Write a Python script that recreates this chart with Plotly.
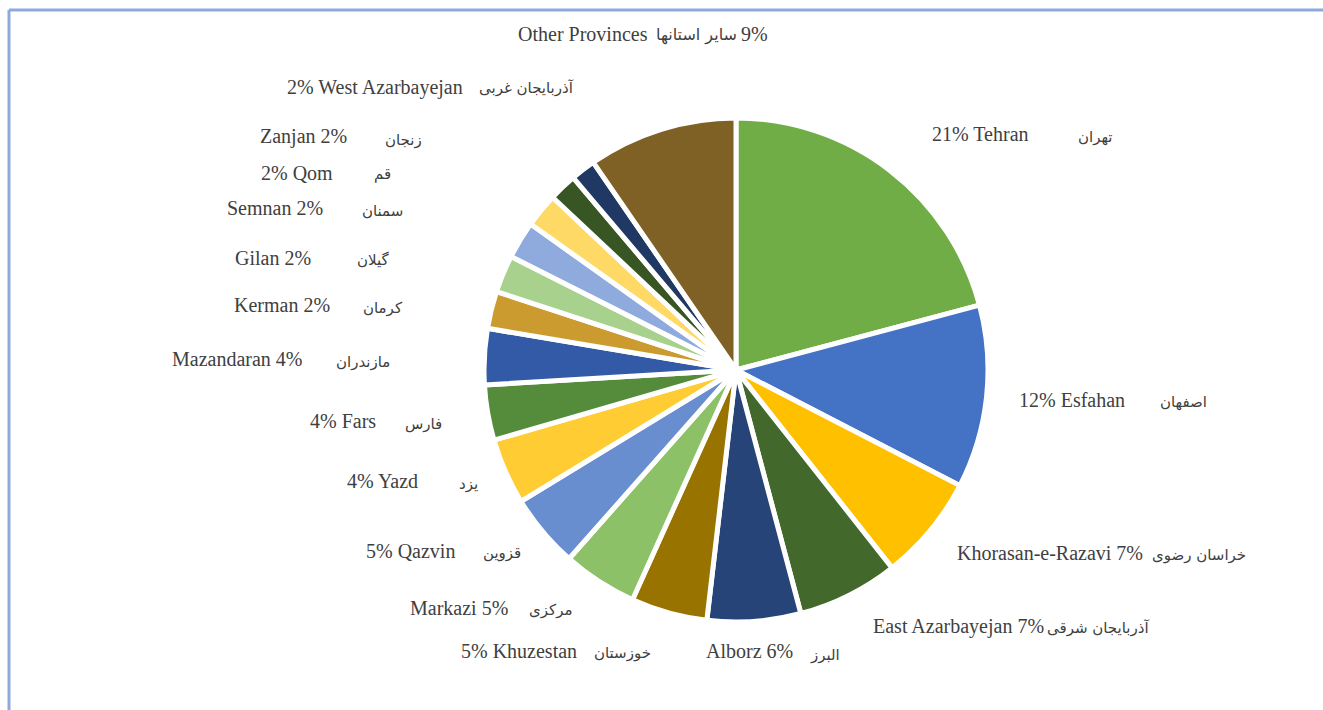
import plotly.graph_objects as go

W, H = 1323, 710

provinces_en = ["Tehran", "Esfahan", "Khorasan-e-Razavi", "East Azarbayejan", "Alborz",
                "Khuzestan", "Markazi", "Qazvin", "Yazd", "Fars", "Mazandaran",
                "Kerman", "Gilan", "Semnan", "Qom", "Zanjan", "West Azarbayejan",
                "Other Provinces"]
provinces_fa = ["تهران", "اصفهان", "خراسان رضوی", "آذربایجان شرقی", "البرز",
                "خوزستان", "مرکزی", "قزوین", "یزد", "فارس", "مازندران",
                "کرمان", "گیلان", "سمنان", "قم", "زنجان", "آذربایجان غربی",
                "سایر استانها"]
shares = [20.9, 11.75, 6.8, 6.5, 6.0, 4.9, 4.8, 4.75, 4.25, 3.55, 3.6,
          2.4, 2.4, 2.4, 2.2, 1.8, 1.6, 9.6]
label_pct = ["21%", "12%", "7%", "7%", "6%", "5%", "5%", "5%", "4%", "4%", "4%",
             "2%", "2%", "2%", "2%", "2%", "2%", "9%"]
colors = ["#70AD47", "#4472C4", "#FFC000", "#43682B", "#264478", "#997300",
          "#8CC168", "#698ED0", "#FFCD33", "#548C3C", "#335AA6", "#CC9B2F",
          "#A9D18E", "#8FAADC", "#FFD966", "#375623", "#1F3864", "#7F6025"]

# English label text (order of percent / name as shown)
pct_first = [True, True, False, False, False, True, False, True, True, True, False,
             False, False, False, True, False, True, None]

# label placement (pixel centres)
en_pos = [(980, 134), (1072, 400), (1050, 553), (958, 626), (749, 651), (519, 651),
          (459, 608), (411, 551), (383, 481), (343, 421), (237, 359), (282, 305),
          (273, 258), (275, 208), (297, 173), (303, 137), (375, 87), (583, 34)]
fa_pos = [(1095, 137), (1183, 402), (1199, 555), (1098, 628), (825, 655), (622, 653),
          (550, 610), (502, 553), (468, 484), (423, 424), (363, 362), (383, 308),
          (373, 260), (383, 211), (383, 174), (404, 140), (526, 88), (703, 35)]
fa_size = [15] * 17 + [16]

fig = go.Figure()
cx, cy, r = 736, 370, 252
fig.add_trace(go.Pie(
    labels=provinces_en, values=shares, sort=False, direction="clockwise",
    rotation=0, textinfo="none", hoverinfo="label+percent",
    marker=dict(colors=colors, line=dict(color="white", width=5)),
    domain=dict(x=[(cx - r) / W, (cx + r) / W], y=[1 - (cy + r) / H, 1 - (cy - r) / H]),
    showlegend=False,
))

serif = "Liberation Serif, Times New Roman, serif"
fa_font = "DejaVu Sans, Noto Sans, sans-serif"
txt_col = "#404040"

for i, name in enumerate(provinces_en):
    if pct_first[i] is None:
        en_txt = name
    elif pct_first[i]:
        en_txt = f"{label_pct[i]} {name}"
    else:
        en_txt = f"{name} {label_pct[i]}"
    ex, ey = en_pos[i]
    fig.add_annotation(x=ex / W, y=1 - ey / H, xref="paper", yref="paper", text=en_txt,
                       showarrow=False, xanchor="center", yanchor="middle",
                       font=dict(family=serif, size=20, color=txt_col))
    fx, fy = fa_pos[i]
    last = i == len(provinces_en) - 1
    fig.add_annotation(x=(739 if last else fx) / W, y=1 - fy / H, xref="paper", yref="paper",
                       text=provinces_fa[i], showarrow=False,
                       xanchor="right" if last else "center", yanchor="middle",
                       font=dict(family=fa_font, size=fa_size[i], color=txt_col))

# "9%" for other provinces sits right after the Persian text
fig.add_annotation(x=739 / W, y=1 - 34 / H, xref="paper", yref="paper", text=label_pct[-1],
                   showarrow=False, xanchor="left", yanchor="middle",
                   font=dict(family=serif, size=20, color=txt_col))

# frame
fig.add_shape(type="line", xref="paper", yref="paper", x0=9 / W, x1=1.02, y0=1 - 10 / H, y1=1 - 10 / H,
              line=dict(color="#8EA9DB", width=3))
fig.add_shape(type="line", xref="paper", yref="paper", x0=9 / W, x1=9 / W, y0=-0.02, y1=1 - 10 / H,
              line=dict(color="#8EA9DB", width=3))

fig.update_layout(width=W, height=H, margin=dict(l=0, r=0, t=0, b=0),
                  paper_bgcolor="white", plot_bgcolor="white")
fig.write_html("out.html", config={"displayModeBar": False},
               post_script="document.body.style.margin='0';")
